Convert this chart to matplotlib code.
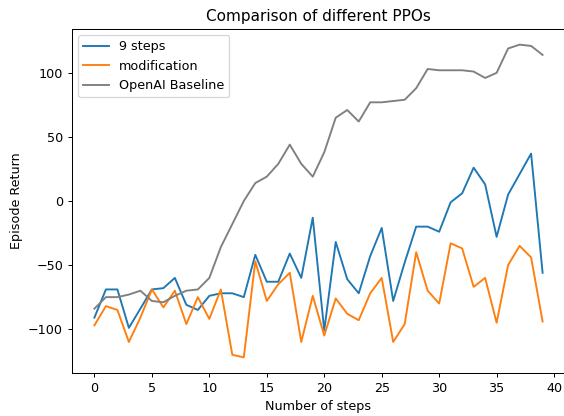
import matplotlib
matplotlib.use("Agg")
import matplotlib.pyplot as plt

steps = list(range(40))

nine_steps = [-91, -69, -69, -99, -84, -69, -68, -60, -81, -85,
              -74, -72, -72, -75, -42, -63, -63, -41, -60, -13,
              -101, -32, -61, -72, -43, -21, -78, -48, -20, -20,
              -24, -1, 6, 26, 13, -28, 5, 21, 37, -56]

modification = [-97, -82, -85, -110, -91, -69, -83, -70, -96, -75,
                -92, -69, -120, -122, -47, -78, -65, -56, -110, -74,
                -105, -76, -88, -93, -72, -60, -110, -96, -40, -70,
                -80, -33, -37, -67, -60, -95, -50, -35, -44, -94]

baseline = [-84, -75, -75, -73, -70, -78, -79, -74, -70, -69,
            -60, -36, -18, 0, 14, 19, 29, 44, 29, 19,
            38, 65, 71, 62, 77, 77, 78, 79, 88, 103,
            102, 102, 102, 101, 96, 100, 119, 122, 121, 114]

DPI = 91.5
fig = plt.figure(figsize=(564 / DPI, 416 / DPI), dpi=DPI)
ax = fig.add_axes([72 / 564, 1 - 373 / 416, 493 / 564, 344 / 416])

ax.plot(steps, nine_steps, color="#1f77b4", linewidth=1.5, label="9 steps")
ax.plot(steps, modification, color="#ff7f0e", linewidth=1.5, label="modification")
ax.plot(steps, baseline, color="gray", linewidth=1.5, label="OpenAI Baseline")

ax.set_title("Comparison of different PPOs", fontsize=12)
ax.set_xlabel("Number of steps")
ax.set_ylabel("Episode Return")
ax.set_xticks([0, 5, 10, 15, 20, 25, 30, 35, 40])
ax.set_yticks([-100, -50, 0, 50, 100])
ax.legend(loc="upper left")

fig.savefig("out.png", dpi=DPI)
